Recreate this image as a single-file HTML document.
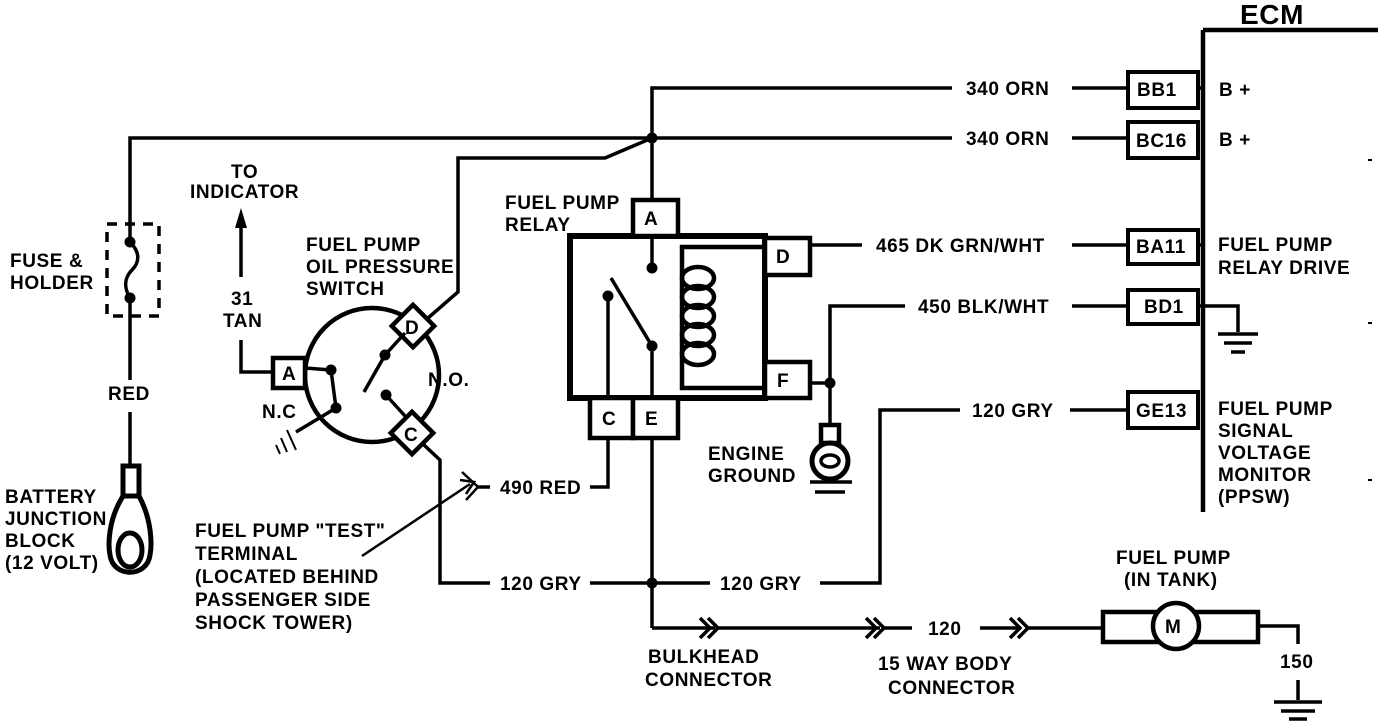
<!DOCTYPE html>
<html><head><meta charset="utf-8"><style>
html,body{margin:0;padding:0;background:#fff;}
svg{display:block;}
text{font-family:"Liberation Sans",sans-serif;font-weight:bold;font-size:19px;letter-spacing:0.6px;fill:#000;}
</style></head><body>
<svg width="1392" height="722" viewBox="0 0 1392 722" xmlns="http://www.w3.org/2000/svg">
<g fill="none" stroke="#000" stroke-width="3.5">
<line x1="1203" y1="30" x2="1203" y2="512" stroke-width="4.5"/>
<line x1="1203" y1="30" x2="1378" y2="30" stroke-width="4.5"/>
<polyline points="652,200 652,88 952,88"/>
<line x1="1072" y1="88" x2="1128" y2="88"/>
<rect x="1128" y="72" width="70" height="36" stroke-width="4"/>
<line x1="1198" y1="88" x2="1203" y2="88"/>
<polyline points="130,240 130,138 952,138"/>
<line x1="1072" y1="138" x2="1128" y2="138"/>
<rect x="1128" y="122" width="70" height="36" stroke-width="4"/>
<polyline points="652,138 605,158 458,158 458,292 428,318"/>
<rect x="107" y="224" width="52" height="92" stroke-dasharray="10,8"/>
<path d="M130,242 C140,252 140,262 132,270 C124,278 124,288 130,298"/>
<line x1="130" y1="298" x2="130" y2="380"/>
<line x1="130" y1="412" x2="130" y2="466"/>
<rect x="123" y="466" width="16" height="30" stroke-width="5"/>
<path d="M123,496 C108,520 108,545 110,555 C113,578 147,578 150,555 C152,545 152,520 139,496" stroke-width="5"/>
<ellipse cx="130" cy="550" rx="12" ry="17" stroke-width="5"/>
<line x1="241" y1="218" x2="241" y2="277"/>
<polyline points="241,340 241,372 273,372"/>
<circle cx="372" cy="375" r="67" stroke-width="4.5"/>
<rect x="273" y="358" width="32" height="30" stroke-width="4.5" fill="#fff"/>
<g transform="translate(413,326) rotate(45)"><rect x="-15" y="-15" width="30" height="30" stroke-width="4.5" fill="#fff"/></g>
<g transform="translate(412,433) rotate(45)"><rect x="-15" y="-15" width="30" height="30" stroke-width="4.5" fill="#fff"/></g>
<line x1="305" y1="368" x2="331" y2="370"/>
<line x1="331" y1="370" x2="336" y2="408"/>
<line x1="336" y1="408" x2="296" y2="432"/>
<line x1="287" y1="430" x2="296" y2="450" stroke-width="2"/>
<line x1="281" y1="438" x2="287" y2="452" stroke-width="2"/>
<line x1="276" y1="445" x2="280" y2="454" stroke-width="2"/>
<line x1="385" y1="355" x2="364" y2="392"/>
<line x1="385" y1="355" x2="405" y2="333"/>
<line x1="386" y1="395" x2="405" y2="416"/>
<polyline points="424,445 440,460 440,583 490,583"/>
<line x1="362" y1="556" x2="470" y2="484" stroke-width="2.5"/>
<polyline points="460,480 474,482 466,494" stroke-width="2.5"/>
<polyline points="462,472 478,487 466,500" stroke-width="2.5"/>
<line x1="478" y1="487" x2="490" y2="487"/>
<rect x="570" y="236" width="195" height="162" stroke-width="6"/>
<rect x="633" y="200" width="45" height="36" stroke-width="4.5" fill="#fff"/>
<rect x="765" y="238" width="45" height="37" stroke-width="4.5" fill="#fff"/>
<rect x="765" y="362" width="45" height="36" stroke-width="4.5" fill="#fff"/>
<rect x="590" y="398" width="43" height="40" stroke-width="4.5" fill="#fff"/>
<rect x="633" y="398" width="45" height="40" stroke-width="4.5" fill="#fff"/>
<line x1="652" y1="236" x2="652" y2="268"/>
<line x1="608" y1="296" x2="608" y2="398"/>
<line x1="611" y1="278" x2="652" y2="346"/>
<line x1="652" y1="346" x2="652" y2="398"/>
<polyline points="765,247 682,247 682,388 765,388" stroke-width="4.5"/>
<g stroke-width="4.5">
<ellipse cx="698" cy="278" rx="16" ry="11"/>
<ellipse cx="698" cy="297" rx="16" ry="11"/>
<ellipse cx="698" cy="316" rx="16" ry="11"/>
<ellipse cx="698" cy="335" rx="16" ry="11"/>
<ellipse cx="698" cy="354" rx="16" ry="11"/>
</g>
<line x1="810" y1="245" x2="862" y2="245"/>
<line x1="1072" y1="245" x2="1128" y2="245"/>
<rect x="1128" y="230" width="70" height="34" stroke-width="4"/>
<line x1="1198" y1="245" x2="1203" y2="245"/>
<polyline points="810,383 830,383"/>
<polyline points="905,306 830,306 830,425"/>
<line x1="1072" y1="306" x2="1128" y2="306"/>
<rect x="1128" y="290" width="70" height="34" stroke-width="4"/>
<polyline points="1198,306 1238,306 1238,332"/>
<line x1="1218" y1="334" x2="1258" y2="334"/>
<line x1="1224" y1="343" x2="1252" y2="343"/>
<line x1="1231" y1="352" x2="1245" y2="352"/>
<rect x="821" y="425" width="18" height="18" stroke-width="4.5"/>
<circle cx="830" cy="461" r="18" stroke-width="5"/>
<ellipse cx="830" cy="461" rx="9" ry="6" stroke-width="3.5"/>
<line x1="810" y1="482" x2="852" y2="482"/>
<line x1="815" y1="492" x2="845" y2="492"/>
<polyline points="590,487 608,487 608,438"/>
<line x1="590" y1="583" x2="710" y2="583"/>
<polyline points="820,583 880,583 880,410 960,410"/>
<line x1="1070" y1="410" x2="1128" y2="410"/>
<rect x="1128" y="392" width="70" height="36" stroke-width="4"/>
<line x1="652" y1="438" x2="652" y2="628"/>
<line x1="652" y1="628" x2="715" y2="628"/>
<polyline points="700,618 710,628 700,638"/>
<polyline points="708,618 718,628 708,638"/>
<line x1="718" y1="628" x2="880" y2="628"/>
<polyline points="866,618 876,628 866,638"/>
<polyline points="874,618 884,628 874,638"/>
<line x1="884" y1="628" x2="912" y2="628"/>
<line x1="980" y1="628" x2="1020" y2="628"/>
<polyline points="1010,618 1020,628 1010,638"/>
<polyline points="1018,618 1028,628 1018,638"/>
<line x1="1028" y1="628" x2="1103" y2="628"/>
<rect x="1103" y="612" width="155" height="30" stroke-width="4.5"/>
<circle cx="1176" cy="626" r="23" stroke-width="4.5" fill="#fff"/>
<polyline points="1258,626 1298,626 1298,644"/>
<line x1="1298" y1="680" x2="1298" y2="700"/>
<line x1="1274" y1="702" x2="1322" y2="702"/>
<line x1="1281" y1="711" x2="1315" y2="711"/>
<line x1="1289" y1="719" x2="1307" y2="719"/>
</g>
<g stroke="#000" stroke-width="2"><line x1="1368" y1="160" x2="1372" y2="160"/><line x1="1368" y1="323" x2="1372" y2="323"/><line x1="1368" y1="480" x2="1372" y2="480"/></g>
<g fill="#000">
<circle cx="652" cy="138" r="5.5"/><circle cx="130" cy="242" r="5.5"/><circle cx="130" cy="298" r="5.5"/>
<circle cx="331" cy="370" r="5.5"/><circle cx="336" cy="408" r="5.5"/><circle cx="385" cy="355" r="5.5"/><circle cx="386" cy="395" r="5.5"/>
<circle cx="652" cy="268" r="5.5"/><circle cx="608" cy="296" r="5.5"/><circle cx="652" cy="346" r="5.5"/>
<circle cx="830" cy="383" r="5.5"/><circle cx="652" cy="583" r="5.5"/>
<polygon points="241,208 235,228 247,228"/>
</g>
<text x="1240" y="24" style="font-size:28px">ECM</text>
<text x="966" y="95">340 ORN</text>
<text x="966" y="145">340 ORN</text>
<text x="1137" y="96">BB1</text>
<text x="1136" y="147">BC16</text>
<text x="1219" y="96">B +</text>
<text x="1219" y="146">B +</text>
<text x="876" y="252">465 DK GRN/WHT</text>
<text x="918" y="313">450 BLK/WHT</text>
<text x="972" y="417">120 GRY</text>
<text x="1136" y="253">BA11</text>
<text x="1144" y="313">BD1</text>
<text x="1136" y="417">GE13</text>
<text x="1218" y="251">FUEL PUMP</text>
<text x="1218" y="274">RELAY DRIVE</text>
<text x="1218" y="415">FUEL PUMP</text>
<text x="1218" y="437">SIGNAL</text>
<text x="1218" y="459">VOLTAGE</text>
<text x="1218" y="481">MONITOR</text>
<text x="1218" y="503">(PPSW)</text>
<text x="10" y="267">FUSE &amp;</text>
<text x="10" y="289">HOLDER</text>
<text x="108" y="400">RED</text>
<text x="5" y="503">BATTERY</text>
<text x="5" y="525">JUNCTION</text>
<text x="5" y="547">BLOCK</text>
<text x="5" y="569">(12 VOLT)</text>
<text x="231" y="178">TO</text>
<text x="190" y="198">INDICATOR</text>
<text x="231" y="305">31</text>
<text x="223" y="327">TAN</text>
<text x="306" y="251">FUEL PUMP</text>
<text x="306" y="273">OIL PRESSURE</text>
<text x="306" y="295">SWITCH</text>
<text x="282" y="380">A</text>
<text x="405" y="334">D</text>
<text x="404" y="441">C</text>
<text x="428" y="386">N.O.</text>
<text x="262" y="418">N.C</text>
<text x="505" y="209">FUEL PUMP</text>
<text x="505" y="231">RELAY</text>
<text x="644" y="225">A</text>
<text x="776" y="263">D</text>
<text x="777" y="387">F</text>
<text x="602" y="425">C</text>
<text x="645" y="425">E</text>
<text x="708" y="460">ENGINE</text>
<text x="708" y="482">GROUND</text>
<text x="500" y="494">490 RED</text>
<text x="195" y="537">FUEL PUMP "TEST"</text>
<text x="195" y="560">TERMINAL</text>
<text x="195" y="583">(LOCATED BEHIND</text>
<text x="195" y="606">PASSENGER SIDE</text>
<text x="195" y="629">SHOCK TOWER)</text>
<text x="500" y="590">120 GRY</text>
<text x="720" y="590">120 GRY</text>
<text x="648" y="663">BULKHEAD</text>
<text x="645" y="686">CONNECTOR</text>
<text x="928" y="635">120</text>
<text x="878" y="670">15 WAY BODY</text>
<text x="888" y="694">CONNECTOR</text>
<text x="1116" y="564">FUEL PUMP</text>
<text x="1124" y="586">(IN TANK)</text>
<text x="1165" y="633">M</text>
<text x="1280" y="668">150</text>
</svg>
</body></html>
